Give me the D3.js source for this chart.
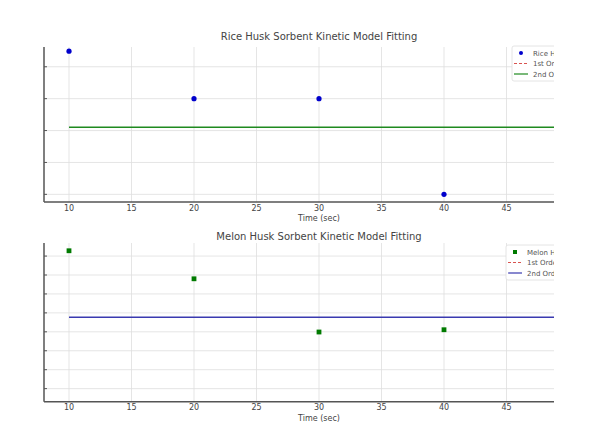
<!DOCTYPE html>
<html><head><meta charset="utf-8">
<script src="https://cdn.jsdelivr.net/npm/d3@7/dist/d3.min.js"></script>
<style>body{margin:0;background:#fff}svg{display:block}text{font-family:"DejaVu Sans",sans-serif}</style>
</head><body><svg id="c" width="600" height="432"></svg>
<script>
// Data (y units are relative; y tick labels are not visible in the source)
const times = [10, 20, 30, 40];
const xTicks = [10, 15, 20, 25, 30, 35, 40, 45];
const riceValues = [5.49, 4.0, 4.0, 1.0];
const riceFit2 = 3.10;
const riceYTicks = [1, 2, 3, 4, 5];
const melonValues = [8.28, 6.80, 3.99, 4.11];
const melonFit2 = 4.77;
const melonYTicks = [1, 2, 3, 4, 5, 6, 7, 8];
const fitRange = [10, 52];

const svg = d3.select("#c");

function panel(cfg) {
  const g = svg.append("g");
  const x = d3.scaleLinear().domain([8, 52]).range([44, 594]);
  const y = d3.scaleLinear().domain(cfg.yDomain).range([cfg.bottom, cfg.top]);
  // grid
  g.append("g").selectAll("line").data(xTicks).join("line")
    .attr("x1", d => x(d)).attr("x2", d => x(d)).attr("y1", cfg.top).attr("y2", cfg.bottom)
    .attr("stroke", "#dedede").attr("stroke-width", 0.8);
  g.append("g").selectAll("line").data(cfg.yTicks).join("line")
    .attr("x1", 44).attr("x2", 594).attr("y1", d => y(d)).attr("y2", d => y(d))
    .attr("stroke", "#dedede").attr("stroke-width", 0.8);
  // fit line (2nd order)
  g.append("line").attr("x1", x(fitRange[0])).attr("x2", x(fitRange[1]))
    .attr("y1", y(cfg.fit2)).attr("y2", y(cfg.fit2))
    .attr("stroke", cfg.lineColor).attr("stroke-width", 1.5);
  // points
  if (cfg.marker === "circle") {
    g.append("g").selectAll("circle").data(times).join("circle")
      .attr("cx", d => x(d)).attr("cy", (d, i) => y(cfg.values[i])).attr("r", 2.6)
      .attr("fill", cfg.pointColor);
  } else {
    g.append("g").selectAll("rect").data(times).join("rect")
      .attr("x", d => x(d) - 2.4).attr("y", (d, i) => y(cfg.values[i]) - 2.4)
      .attr("width", 4.8).attr("height", 4.8).attr("fill", cfg.pointColor);
  }
  // y ticks (inward short)
  g.append("g").selectAll("line").data(cfg.yTicks).join("line")
    .attr("x1", 44).attr("x2", 47).attr("y1", d => y(d)).attr("y2", d => y(d))
    .attr("stroke", "#555").attr("stroke-width", 1);
  // spines
  g.append("line").attr("x1", 44).attr("x2", 44).attr("y1", cfg.top).attr("y2", cfg.bottom)
    .attr("stroke", "#555").attr("stroke-width", 1.5);
  g.append("line").attr("x1", 44).attr("x2", 594).attr("y1", cfg.bottom).attr("y2", cfg.bottom)
    .attr("stroke", "#555").attr("stroke-width", 1.5);
  // x tick labels
  g.append("g").selectAll("text").data(xTicks).join("text")
    .attr("x", d => x(d)).attr("y", cfg.bottom + 8.5).attr("text-anchor", "middle")
    .attr("font-size", 8).attr("fill", "#444").text(d => d);
  g.append("text").attr("x", 319).attr("y", cfg.bottom + 19).attr("text-anchor", "middle")
    .attr("font-size", 8).attr("fill", "#444").text("Time (sec)");
  g.append("text").attr("x", 319).attr("y", cfg.titleY).attr("text-anchor", "middle")
    .attr("font-size", 10).attr("fill", "#444").text(cfg.title);
  // legend
  const lg = g.append("g").attr("transform", `translate(${cfg.legX},${cfg.legY})`);
  lg.append("rect").attr("x", 0).attr("y", 0).attr("width", 80).attr("height", 35).attr("rx", 2)
    .attr("fill", "#fff").attr("stroke", "#ddd").attr("stroke-width", 0.8);
  const rows = [
    {label: cfg.dataLabel, type: "marker", color: cfg.pointColor},
    {label: "1st Order Fit", type: "dash", color: "#d9534f"},
    {label: "2nd Order Fit", type: "line", color: cfg.lineColor}
  ];
  rows.forEach((r, i) => {
    const yy = 7 + i * 10.5;
    if (r.type === "marker") {
      if (cfg.marker === "circle") lg.append("circle").attr("cx", 9).attr("cy", yy).attr("r", 2).attr("fill", r.color);
      else lg.append("rect").attr("x", 7).attr("y", yy - 2).attr("width", 4).attr("height", 4).attr("fill", r.color);
    } else {
      lg.append("line").attr("x1", 2).attr("x2", 16).attr("y1", yy).attr("y2", yy)
        .attr("stroke", r.color).attr("stroke-width", 1.2)
        .attr("stroke-dasharray", r.type === "dash" ? "3,2" : null);
    }
    lg.append("text").attr("x", 21).attr("y", yy + 2.5).attr("font-size", 7)
      .attr("fill", "#555").text(r.label);
  });
}

panel({top: 47, bottom: 202, yDomain: [0.76, 5.62], yTicks: riceYTicks, values: riceValues,
  fit2: riceFit2, marker: "circle", pointColor: "#0000cc", lineColor: "#1f8a1f", titleY: 39.5,
  title: "Rice Husk Sorbent Kinetic Model Fitting", dataLabel: "Rice Husk Data", legX: 512, legY: 46});
panel({top: 243, bottom: 401.7, yDomain: [0.31, 8.69], yTicks: melonYTicks, values: melonValues,
  fit2: melonFit2, marker: "square", pointColor: "#007a00", lineColor: "#3a3ab0", titleY: 239.5,
  title: "Melon Husk Sorbent Kinetic Model Fitting", dataLabel: "Melon Husk Data", legX: 506, legY: 245});

// right edge of the source picture is blanked out
svg.append("rect").attr("x", 554).attr("y", 0).attr("width", 46).attr("height", 432).attr("fill", "#fff");
</script></body></html>
